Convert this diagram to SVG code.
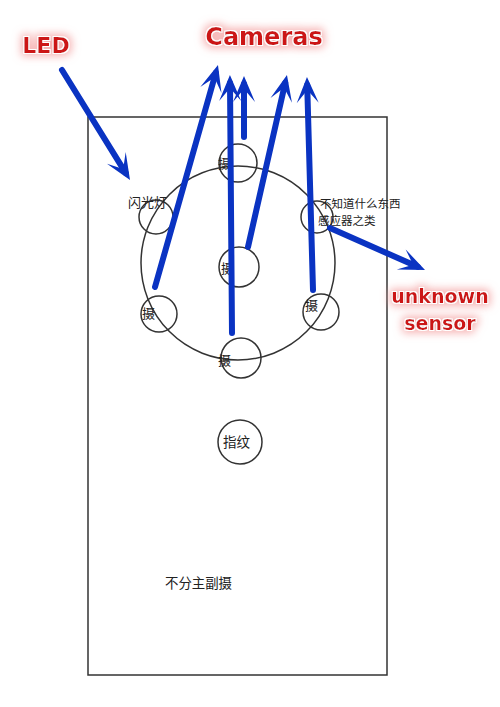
<svg xmlns="http://www.w3.org/2000/svg" width="500" height="707" viewBox="0 0 500 707">
<style>
.ring{fill:none;stroke:#333;stroke-width:1.5}
.cn{font-family:"Noto Sans CJK SC","Noto Sans",sans-serif;fill:#222}
.lbl{font-family:"DejaVu Sans",sans-serif;font-weight:bold;fill:#cc1515;text-anchor:middle;filter:url(#glow)}
.arr{stroke:#0a33c2;stroke-width:6;stroke-linecap:round;fill:none;marker-end:url(#ah)}
</style>
<defs>
<filter id="glow" x="-30%" y="-60%" width="160%" height="220%">
<feMorphology in="SourceAlpha" operator="dilate" radius="3" result="d"/>
<feGaussianBlur in="d" stdDeviation="4.5" result="b"/>
<feFlood flood-color="#f4a0a0" flood-opacity="0.8"/>
<feComposite in2="b" operator="in" result="g"/>
<feMorphology in="SourceAlpha" operator="dilate" radius="1.3" result="w"/>
<feFlood flood-color="#ffffff"/>
<feComposite in2="w" operator="in" result="wh"/>
<feMerge><feMergeNode in="g"/><feMergeNode in="wh"/><feMergeNode in="SourceGraphic"/></feMerge>
</filter>
<marker id="ah" viewBox="-22 -14 32 28" refX="0" refY="0" markerWidth="32" markerHeight="28" markerUnits="userSpaceOnUse" orient="auto">
<path d="M8,0 L-18,-11 L-5,0 L-18,11 Z" fill="#0a33c2"/>
</marker>
</defs>
<rect width="500" height="707" fill="#fff"/>
<g id="phone"><rect x="88" y="117" width="299" height="558" class="ring" stroke="#444"/></g>
<g id="module"><circle cx="238" cy="263" r="97" class="ring" stroke="#555" stroke-width="1.3"/></g>
<g id="cam-top"><circle cx="238" cy="163" r="19" class="ring"/><text x="218" y="168" class="cn" font-size="13">摄</text></g>
<g id="flash"><circle cx="156" cy="217" r="17" class="ring"/><text x="128" y="207" class="cn" font-size="13">闪光灯</text></g>
<g id="cam-center"><circle cx="239" cy="267" r="20" class="ring"/><text x="221" y="273" class="cn" font-size="13">摄</text></g>
<g id="cam-left"><circle cx="159" cy="314" r="18" class="ring"/><text x="142" y="318" class="cn" font-size="13">摄</text></g>
<g id="cam-bottom"><circle cx="241" cy="358" r="20" class="ring"/><text x="218" y="365" class="cn" font-size="13">摄</text></g>
<g id="cam-right"><circle cx="321" cy="312" r="18" class="ring"/><text x="305" y="310" class="cn" font-size="13">摄</text></g>
<g id="sensor"><circle cx="317" cy="217" r="16" class="ring"/><text x="320" y="208" class="cn" font-size="11.5">不知道什么东西</text><text x="318" y="225" class="cn" font-size="11.5">感应器之类</text></g>
<g id="fingerprint"><circle cx="240" cy="442" r="22" class="ring"/><text x="223" y="447" class="cn" font-size="13.5">指纹</text></g>
<g id="note"><text x="165" y="588" class="cn" font-size="13.4">不分主副摄</text></g>
<g id="labels">
<text x="46" y="53" class="lbl" font-size="22">LED</text>
<text x="264" y="45" class="lbl" font-size="24">Cameras</text>
<text x="440" y="303" class="lbl" font-size="19">unknown</text>
<text x="440" y="330" class="lbl" font-size="19">sensor</text>
</g>
<g id="connectors">
<line x1="62" y1="70" x2="125.8" y2="173.2" class="arr"/>
<line x1="155" y1="287" x2="215.8" y2="72.7" class="arr"/>
<line x1="232" y1="333" x2="230" y2="83" class="arr"/>
<line x1="244" y1="137" x2="244" y2="84" class="arr"/>
<line x1="248" y1="247" x2="285.2" y2="82.8" class="arr"/>
<line x1="313" y1="290" x2="307.2" y2="85" class="arr"/>
<line x1="330" y1="228" x2="417.7" y2="266.8" class="arr"/>
</g>
</svg>
